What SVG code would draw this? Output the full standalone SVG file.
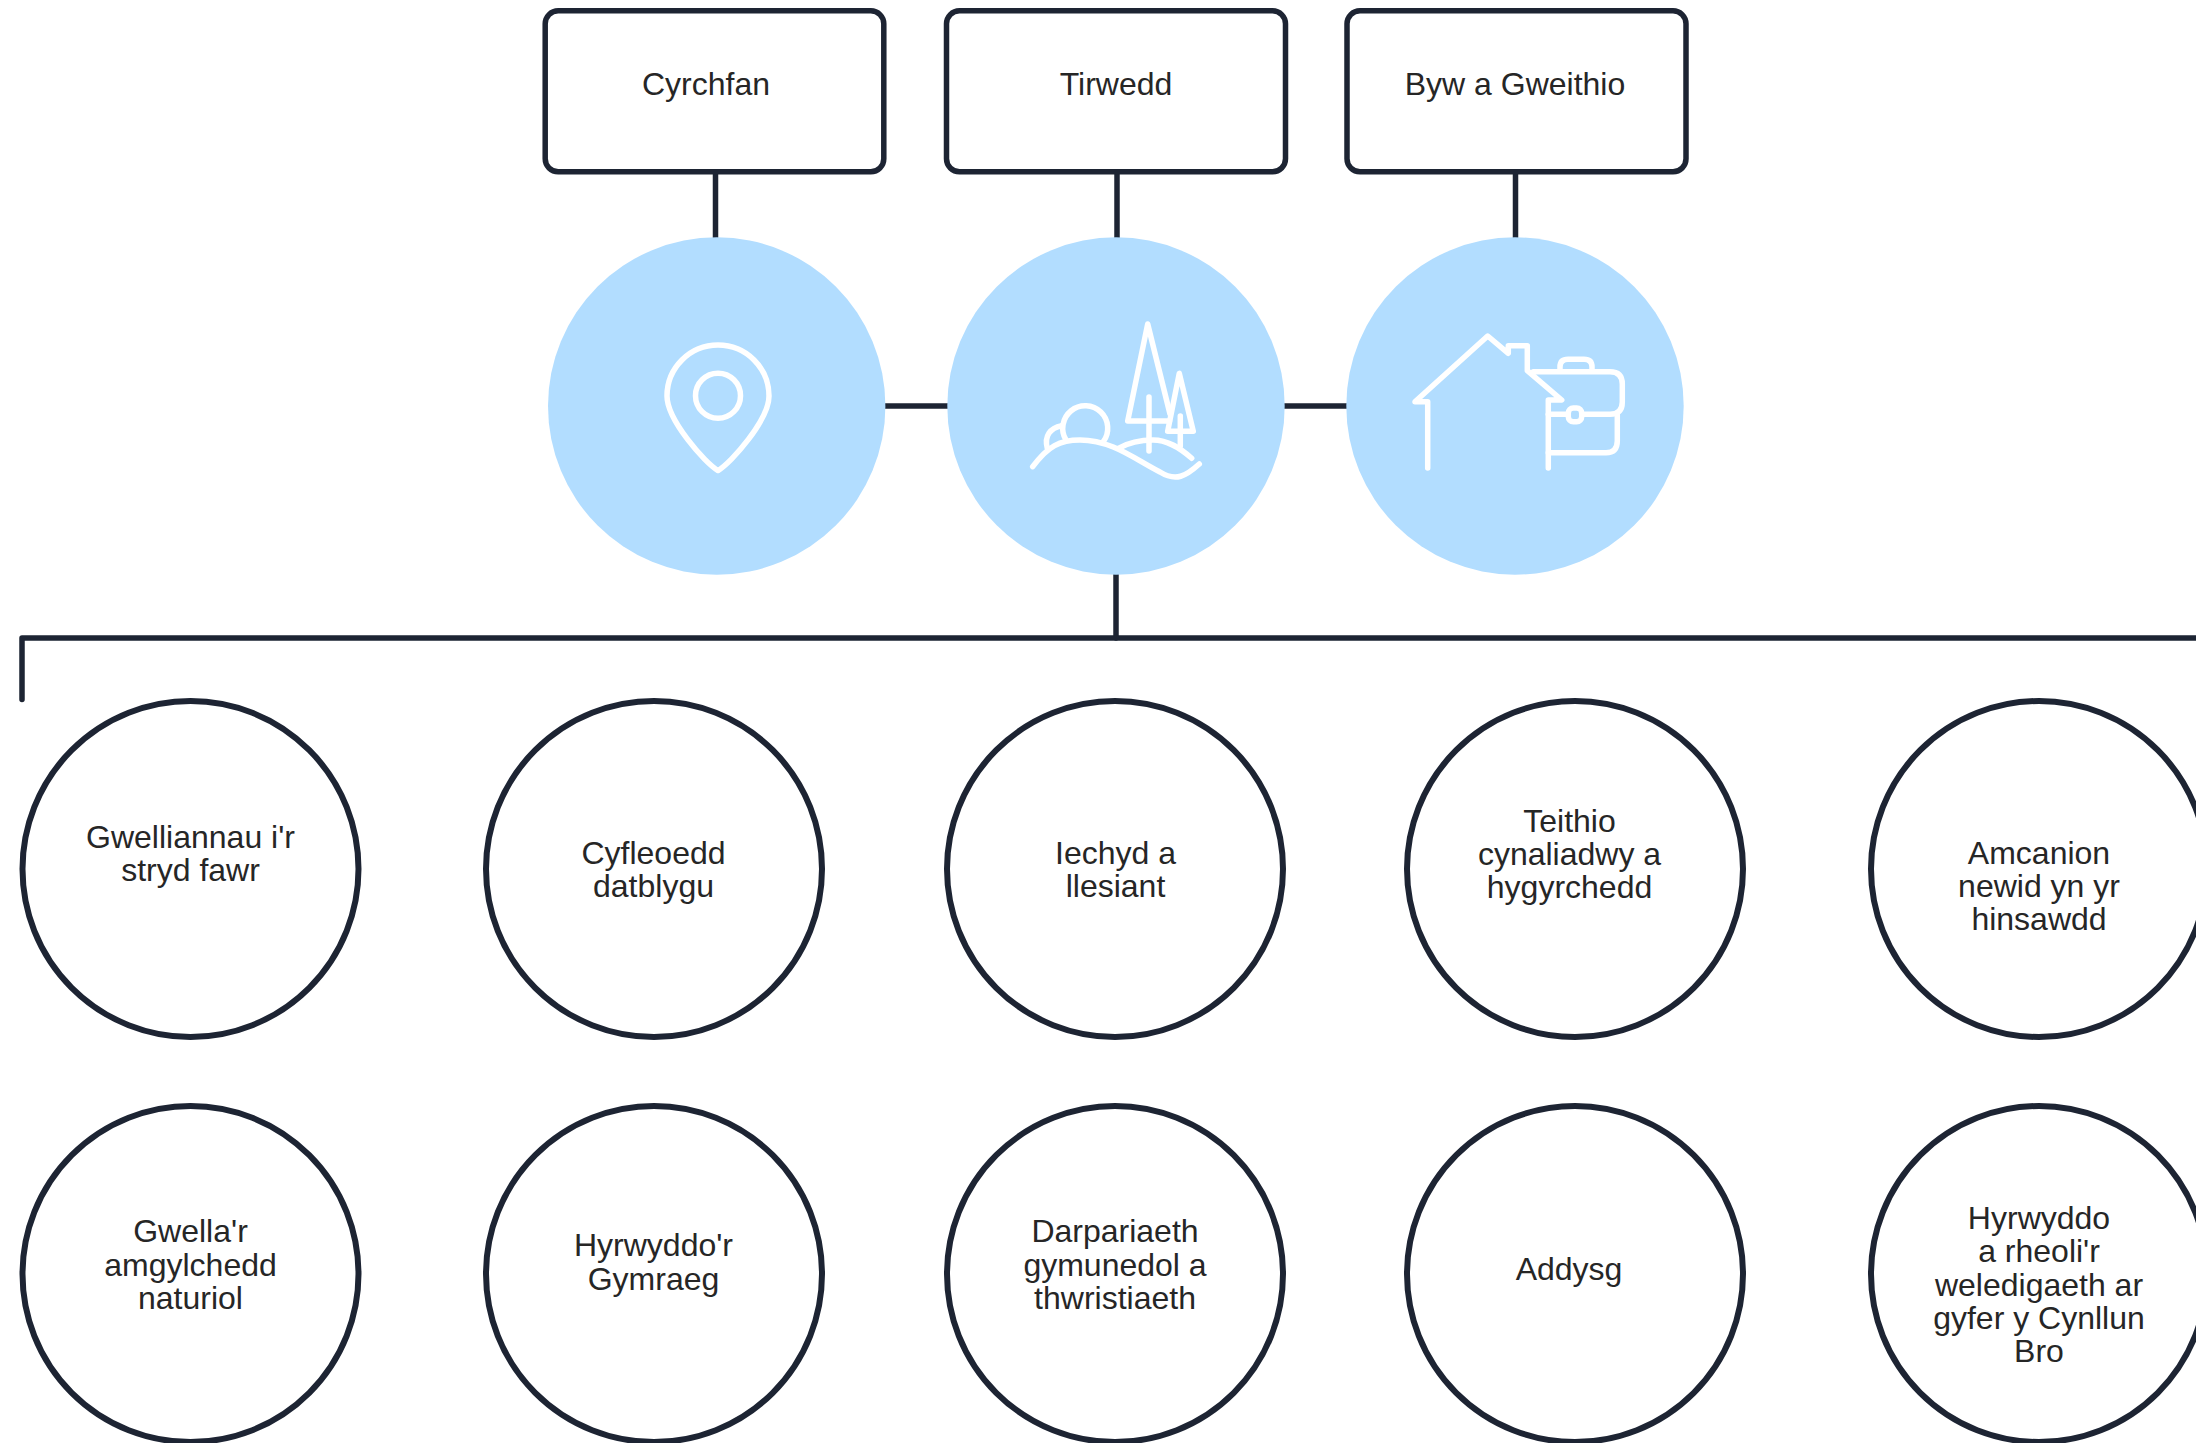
<svg xmlns="http://www.w3.org/2000/svg" width="2196" height="1443" viewBox="0 0 2196 1443">
<style>
.box{fill:#fff;stroke:#1d2433;stroke-width:5.5}
.ring{fill:#fff;stroke:#1d2433;stroke-width:6}
.disc{fill:#b2ddff}
.icon{fill:none;stroke:#fff;stroke-width:5.5;stroke-linecap:round;stroke-linejoin:round}
.conn{fill:none;stroke:#1d2433;stroke-width:5.5;stroke-linecap:round;stroke-linejoin:round}
text{font-family:"Liberation Sans",Arial,sans-serif;font-size:32px;fill:#262626;text-anchor:middle}
</style>
<rect width="2196" height="1443" fill="#fff"/>
<g id="connectors">
<path class="conn" d="M715.5 172V238"/>
<path class="conn" d="M1117 172V238"/>
<path class="conn" d="M1515.5 172V238"/>
<path class="conn" d="M885 406H949"/>
<path class="conn" d="M1284 406H1348"/>
<path class="conn" d="M1116 574V638"/>
<path class="conn" d="M22 699.5V638H2196"/>
</g>
<g id="box-cyrchfan"><rect class="box" x="545.2" y="10.8" width="338.6" height="161" rx="13"/><text x="706" y="95">Cyrchfan</text></g>
<g id="box-tirwedd"><rect class="box" x="946.5" y="10.8" width="339" height="161" rx="13"/><text x="1116" y="95">Tirwedd</text></g>
<g id="box-byw"><rect class="box" x="1347" y="10.8" width="339" height="161" rx="13"/><text x="1515" y="95">Byw a Gweithio</text></g>
<g id="icon-cyrchfan"><circle class="disc" cx="716.7" cy="406" r="168.7"/>
<path class="icon" d="M718 470.5C705 463 667 420 667 396A51 51 0 0 1 769 396C769 420 731 463 718 470.5Z"/><circle class="icon" cx="718" cy="395.7" r="22.5"/></g>
<g id="icon-tirwedd"><circle class="disc" cx="1116" cy="406" r="168.7"/>
<path class="icon" d="M1169.5 421H1127.7L1147.7 324L1170 414"/><path class="icon" d="M1149 397V451"/>
<path class="icon" d="M1167.7 431.3H1193.3L1179.3 373.3L1167.7 431.3"/><path class="icon" d="M1180.3 416V446"/>
<path class="icon" d="M1032.7 466.7C1048 446 1060 440 1080 440C1112 440 1136 460 1160 472C1176 482 1186 476 1199.3 464"/>
<path class="icon" d="M1118.3 448.3C1128 443 1140 440 1153 440C1168 440 1180 448 1191.7 458.3"/>
<path class="icon" d="M1066 440A22.5 22.5 0 1 1 1103.3 441.7"/>
<path class="icon" d="M1047.3 448.3C1044 436 1050 428 1061.7 425.7"/></g>
<g id="icon-byw"><circle class="disc" cx="1515" cy="406" r="168.7"/>
<path class="icon" d="M1427.7 468V401.7H1415L1487.7 336L1508.3 353.3V345.7H1527.3V370.7L1561.7 400H1548.3V468"/>
<path class="icon" d="M1533.3 371.7H1610Q1622.3 371.7 1622.3 384V402Q1622.3 414.3 1610 414.3H1583.3"/>
<path class="icon" d="M1548.3 414.3H1566.7"/>
<rect class="icon" x="1568.3" y="408" width="13.4" height="13.7" rx="5"/>
<path class="icon" d="M1617.3 415V441Q1617.3 452.7 1606 452.7H1548.3"/>
<path class="icon" d="M1560 370V367Q1560 359.3 1568 359.3H1584Q1592 359.3 1592 367V370"/></g>
<g id="n1"><circle class="ring" cx="190.5" cy="869" r="168"/><text x="190.5" y="847.5">Gwelliannau i'r</text><text x="190.5" y="880.5">stryd fawr</text></g>
<g id="n2"><circle class="ring" cx="654" cy="869" r="168"/><text x="653.5" y="864">Cyfleoedd</text><text x="653.5" y="897">datblygu</text></g>
<g id="n3"><circle class="ring" cx="1115" cy="869" r="168"/><text x="1115.5" y="864">Iechyd a</text><text x="1115.5" y="897">llesiant</text></g>
<g id="n4"><circle class="ring" cx="1575" cy="869" r="168"/><text x="1569.5" y="832">Teithio</text><text x="1569.5" y="865">cynaliadwy a</text><text x="1569.5" y="898">hygyrchedd</text></g>
<g id="n5"><circle class="ring" cx="2039" cy="869" r="168"/><text x="2039" y="864">Amcanion</text><text x="2039" y="897">newid yn yr</text><text x="2039" y="930">hinsawdd</text></g>
<g id="n6"><circle class="ring" cx="190.5" cy="1274" r="168"/><text x="190.5" y="1242">Gwella'r</text><text x="190.5" y="1275.5">amgylchedd</text><text x="190.5" y="1309">naturiol</text></g>
<g id="n7"><circle class="ring" cx="654" cy="1274" r="168"/><text x="653.5" y="1256">Hyrwyddo'r</text><text x="653.5" y="1289.5">Gymraeg</text></g>
<g id="n8"><circle class="ring" cx="1115" cy="1274" r="168"/><text x="1115" y="1242">Darpariaeth</text><text x="1115" y="1275.5">gymunedol a</text><text x="1115" y="1309">thwristiaeth</text></g>
<g id="n9"><circle class="ring" cx="1575" cy="1274" r="168"/><text x="1569" y="1280">Addysg</text></g>
<g id="n10"><circle class="ring" cx="2039" cy="1274" r="168"/><text x="2039" y="1228.5">Hyrwyddo</text><text x="2039" y="1262">a rheoli'r</text><text x="2039" y="1295.5">weledigaeth ar</text><text x="2039" y="1328.5">gyfer y Cynllun</text><text x="2039" y="1361.5">Bro</text></g>
</svg>
